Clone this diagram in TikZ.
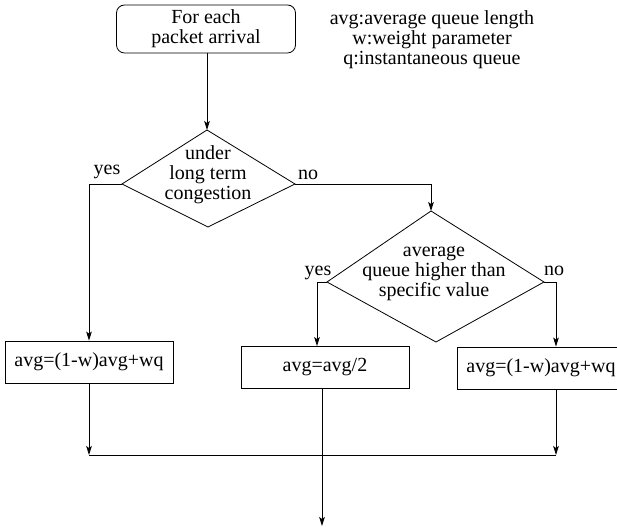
\documentclass[tikz,border=0pt]{standalone}
\usepackage{fontspec}
\setmainfont{Liberation Serif}
\usetikzlibrary{arrows.meta, positioning}
\tikzset{
	line width = .6pt,
	>={Stealth[length=4.5pt, width=2.8pt, inset=1pt]},
	font = \fontsize{10}{10}\selectfont,
	startbox/.style={
		draw,
		rounded corners=4pt,
		align=center,
		inner sep=0pt,
		minimum width=89.5pt,
		minimum height=24pt
	},
	process/.style={
		draw,
		inner sep=0pt,
		minimum width=84pt,
		minimum height=21pt
	},
	decision/.style={
		draw,
		line join=miter
	},
	cond/.style={
		align=center,
		inner sep=0pt
	},
	answer/.style={
		anchor=base,
		inner sep=0pt
	},
	flow/.style={
		->
	}
}

\begin{document}
\begin{tikzpicture}[x=.5pt, y=-.5pt]
		\useasboundingbox (0,0) rectangle (617,528);

		\node[startbox] (start) at (206,29) {For each\\packet arrival};
		\node[cond] (legend) at (432,40) {avg:average queue length\\w:weight parameter\\q:instantaneous queue};

		% first test
		\coordinate (d1-n) at (207,130);
		\coordinate (d1-w) at (122,184);
		\coordinate (d1-s) at (208,227);
		\coordinate (d1-e) at (295,184);
		\draw[decision] (d1-n) -- (d1-w) -- (d1-s) -- (d1-e) -- cycle;
		\node[cond] (d1) at (208,175) {under\\long term\\congestion};

		% second test
		\coordinate (d2-n) at (431,211);
		\coordinate (d2-w) at (327,282);
		\coordinate (d2-s) at (436,342);
		\coordinate (d2-e) at (544,282);
		\draw[decision] (d2-n) -- (d2-w) -- (d2-s) -- (d2-e) -- cycle;
		\node[cond] (d2) at (434,274) {average\\queue higher than\\specific value};

		\node[answer] (y1) at (107,175) {yes};
		\node[answer] (n1) at (308,180) {no};
		\node[answer] (y2) at (318,276) {yes};
		\node[answer] (n2) at (554,276) {no};

		\node[process] (p1) at (89,362) {avg=(1-w)avg+wq};
		\node[process] (p2) at (325,367.5) {avg=avg/2};
		\node[process] (p3) at (541,368) {avg=(1-w)avg+wq};

		\coordinate (join) at (322,455);
		\coordinate (out) at (322,526);

		\draw[flow] (start.south -| d1-n) -- (d1-n);
		\draw[flow] (d1-w) -| (p1.north);
		\draw[flow] (d1-e) -| (d2-n);
		\draw[flow] (d2-w) -| ([xshift=-4pt]p2.north);
		\draw[flow] (d2-e) -| ([xshift=7.5pt]p3.north);

		\draw[flow] (p1.south) -- (p1.south |- join);
		\draw[flow] ([xshift=7.5pt]p3.south) -- ([xshift=7.5pt]p3.south |- join);
		\draw (p1.south |- join) -- ([xshift=7.5pt]p3.south |- join);
		\draw[flow] (p2.south -| out) -- (out);
	\end{tikzpicture}
\end{document}
